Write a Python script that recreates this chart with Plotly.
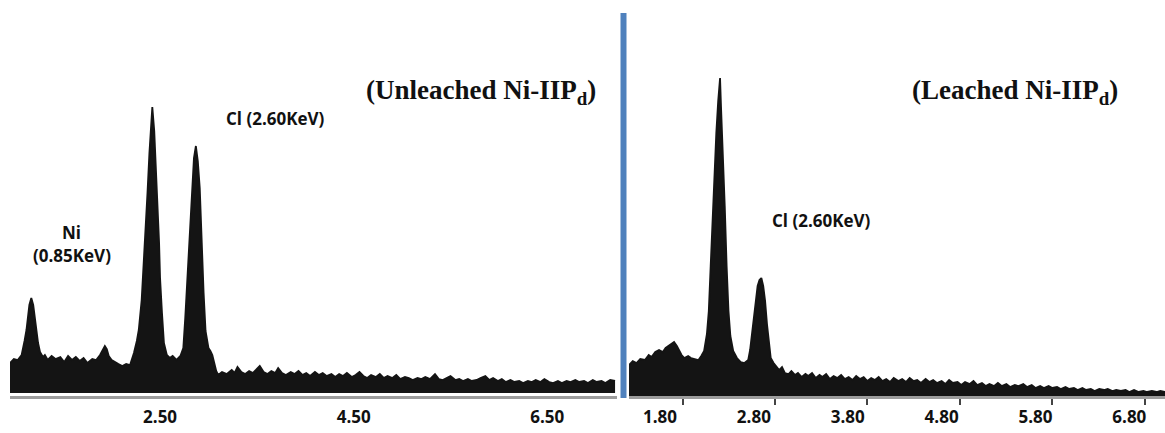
import plotly.graph_objects as go

# EDX spectrum, unleached Ni-IIPd (energy in keV, intensity in arbitrary counts)
unleached_kev = [0.95, 0.99, 1.03, 1.07, 1.10, 1.12, 1.15, 1.17, 1.19, 1.22, 1.24, 1.26, 1.29, 1.31,
                 1.34, 1.38, 1.42, 1.47, 1.51, 1.55, 1.59, 1.63, 1.67, 1.71, 1.75, 1.80, 1.84, 1.88,
                 1.91, 1.93, 1.95, 1.97, 2.00, 2.03, 2.07, 2.11, 2.15, 2.19, 2.23,
                 2.26, 2.28, 2.31, 2.33, 2.35, 2.37, 2.39, 2.40, 2.42, 2.44, 2.45, 2.47, 2.49, 2.50,
                 2.52, 2.54, 2.57, 2.60, 2.63, 2.67, 2.71, 2.74, 2.76, 2.78, 2.79, 2.81, 2.83, 2.85,
                 2.87, 2.89, 2.91, 2.93, 2.95, 2.97, 3.00, 3.02, 3.04, 3.06, 3.08, 3.10,
                 3.14, 3.19, 3.24, 3.27, 3.30, 3.34, 3.38, 3.42, 3.46, 3.50, 3.53, 3.57, 3.61, 3.65,
                 3.69, 3.72, 3.76, 3.80, 3.85, 3.89, 3.93, 3.97, 4.01, 4.05, 4.10, 4.14, 4.18, 4.22,
                 4.27, 4.31, 4.35, 4.39, 4.43, 4.48, 4.52, 4.56, 4.60, 4.64, 4.68, 4.73, 4.77, 4.81,
                 4.85, 4.90, 4.94, 4.98, 5.03, 5.07, 5.11, 5.16, 5.20, 5.24, 5.29, 5.34, 5.38, 5.42,
                 5.46, 5.50, 5.55, 5.59, 5.63, 5.68, 5.72, 5.77, 5.81, 5.86, 5.90, 5.94, 5.99, 6.03,
                 6.07, 6.12, 6.16, 6.21, 6.25, 6.30, 6.34, 6.38, 6.43, 6.47, 6.52, 6.56, 6.61, 6.65,
                 6.70, 6.74, 6.79, 6.83, 6.88, 6.92, 6.97, 7.01, 7.06, 7.10, 7.15, 7.20]
unleached_counts = [30, 34, 33, 38, 52, 63, 88, 95, 88, 63, 50, 41, 36, 38,
                    33, 37, 34, 36, 31, 37, 33, 36, 32, 35, 30, 34, 33, 38,
                    44, 47, 44, 37, 33, 31, 29, 27, 29, 28, 40,
                    52, 63, 93, 125, 165, 200, 240, 260, 286, 262, 235, 195, 150, 115,
                    80, 50, 38, 35, 37, 33, 37, 45, 75, 110, 130, 175, 210, 235,
                    247, 232, 205, 150, 100, 62, 45, 42, 38, 30, 22, 18,
                    21, 19, 23, 20, 26, 21, 19, 22, 20, 24, 27, 21, 19, 22,
                    20, 25, 20, 18, 21, 19, 22, 18, 20, 17, 21, 18, 20, 17,
                    19, 16, 19, 17, 20, 16, 18, 21, 17, 15, 18, 16, 19, 15,
                    17, 15, 18, 14, 16, 15, 13, 15, 14, 16, 14, 19, 14, 13,
                    15, 17, 13, 14, 12, 14, 12, 13, 15, 17, 13, 15, 12, 14,
                    11, 13, 11, 12, 10, 12, 11, 13, 11, 14, 11, 10, 12, 10,
                    12, 11, 13, 11, 12, 10, 13, 11, 12, 10, 13, 12]

# EDX spectrum, leached Ni-IIPd
leached_kev = [1.47, 1.51, 1.55, 1.59, 1.64, 1.68, 1.71, 1.75, 1.79, 1.83, 1.86, 1.90, 1.95, 1.98,
               2.00, 2.03, 2.06, 2.10, 2.13, 2.17, 2.21, 2.24, 2.27, 2.30, 2.32, 2.34, 2.36, 2.38,
               2.40, 2.42, 2.44, 2.45, 2.47, 2.49, 2.51, 2.53, 2.55, 2.58, 2.62, 2.66, 2.70, 2.74,
               2.76, 2.78, 2.80, 2.82, 2.84, 2.86, 2.88, 2.90, 2.92, 2.94, 2.96, 2.98, 3.01, 3.04,
               3.07, 3.10, 3.13, 3.17, 3.20, 3.24, 3.27, 3.31, 3.35, 3.38, 3.42, 3.46, 3.50, 3.53,
               3.57, 3.61, 3.65, 3.69, 3.73, 3.77, 3.81, 3.85, 3.89, 3.93, 3.97, 4.01, 4.05, 4.09,
               4.13, 4.17, 4.21, 4.25, 4.29, 4.34, 4.38, 4.42, 4.46, 4.50, 4.54, 4.58, 4.63, 4.67,
               4.71, 4.75, 4.80, 4.84, 4.88, 4.92, 4.97, 5.01, 5.05, 5.10, 5.14, 5.18, 5.23, 5.27,
               5.31, 5.36, 5.40, 5.44, 5.49, 5.53, 5.58, 5.62, 5.67, 5.71, 5.76, 5.80, 5.85, 5.89,
               5.94, 5.98, 6.03, 6.07, 6.12, 6.16, 6.21, 6.25, 6.30, 6.34, 6.39, 6.43, 6.48, 6.53,
               6.57, 6.62, 6.66, 6.71, 6.76, 6.80, 6.85, 6.90, 6.95, 6.99, 7.04, 7.09, 7.13, 7.18]
leached_counts = [31, 35, 33, 37, 36, 41, 39, 44, 46, 44, 48, 51, 54, 50,
                  46, 41, 38, 40, 38, 37, 36, 40, 45, 62, 85, 130, 180, 225,
                  263, 295, 318, 290, 245, 190, 130, 85, 60, 45, 38, 34, 33, 36,
                  46, 62, 80, 97, 110, 116, 118, 110, 95, 72, 52, 38, 33, 30,
                  26, 29, 23, 22, 25, 21, 23, 19, 22, 20, 23, 18, 21, 19,
                  22, 17, 20, 18, 21, 17, 19, 16, 20, 17, 19, 15, 18, 16,
                  19, 15, 17, 14, 18, 15, 17, 14, 18, 15, 16, 13, 17, 14,
                  16, 13, 15, 12, 16, 13, 14, 11, 14, 12, 15, 11, 13, 10,
                  12, 10, 13, 10, 12, 9, 11, 10, 12, 9, 11, 8, 10, 8,
                  10, 8, 9, 7, 9, 7, 8, 6, 8, 6, 7, 5, 7, 6,
                  7, 5, 6, 5, 6, 4, 6, 4, 5, 4, 5, 4, 5, 4]

unleached_ticks = [2.50, 4.50, 6.50]
leached_ticks = [1.80, 2.80, 3.80, 4.80, 5.80, 6.80]
leached_scale_marks = [2.05, 3.03, 4.01, 5.00, 5.98, 6.97]

INK = "#141414"
LABEL_FONT = dict(family="Open Sans, Lato, sans-serif", size=17, color="#111111")
TITLE_FONT = dict(family="Liberation Serif, Times New Roman, serif", size=27, color="#111111")

fig = go.Figure()

fig.add_trace(go.Scatter(
    x=unleached_kev, y=unleached_counts, mode="lines",
    line=dict(color=INK, width=1.8, shape="linear"),
    fill="tozeroy", fillcolor=INK, xaxis="x", yaxis="y",
    hoverinfo="x+y", showlegend=False,
))
fig.add_trace(go.Scatter(
    x=leached_kev, y=leached_counts, mode="lines",
    line=dict(color=INK, width=1.8, shape="linear"),
    fill="tozeroy", fillcolor=INK, xaxis="x2", yaxis="y2",
    hoverinfo="x+y", showlegend=False,
))

axis_common = dict(
    showgrid=False, zeroline=False, showline=True,
    linecolor="#9c9c9c", linewidth=3, ticks="",
    tickfont=dict(family=LABEL_FONT["family"], size=17, color="#111111"),
    ticklabelstandoff=4, fixedrange=True,
)

fig.update_layout(
    width=1165, height=433,
    margin=dict(l=0, r=0, t=0, b=37),
    paper_bgcolor="white", plot_bgcolor="white",
    xaxis=dict(domain=[10 / 1165, 617 / 1165], range=[0.95, 7.22],
               tickmode="array", tickvals=unleached_ticks,
               ticktext=[f"<b>{v:.2f}</b>" for v in unleached_ticks], **axis_common),
    yaxis=dict(domain=[0, 1], range=[-3, 393], visible=False, fixedrange=True),
    xaxis2=dict(domain=[629 / 1165, 1.0], range=[1.47, 7.18], anchor="y2",
                tickmode="array", tickvals=leached_ticks,
                ticktext=[f"<b>{v:.2f}</b>" for v in leached_ticks],
                minor=dict(tickmode="array", tickvals=leached_scale_marks,
                           ticks="outside", ticklen=6, tickwidth=2, tickcolor="#444444"),
                **axis_common),
    yaxis2=dict(domain=[0, 1], range=[0, 396], anchor="x2", visible=False, fixedrange=True),
)

annotations = [
    dict(x=3.69, y=275, xref="x", yref="y", text="<b>Cl (2.60KeV)</b>", font=LABEL_FONT),
    dict(x=1.59, y=161, xref="x", yref="y", text="<b>Ni</b>", font=LABEL_FONT),
    dict(x=1.59, y=138, xref="x", yref="y", text="<b>(0.85KeV)</b>", font=LABEL_FONT),
    dict(x=5.82, y=301, xref="x", yref="y", text="<b>(Unleached Ni-IIP<sub>d</sub>)</b>", font=TITLE_FONT),
    dict(x=3.52, y=176, xref="x2", yref="y2", text="<b>Cl (2.60KeV)</b>", font=LABEL_FONT),
    dict(x=5.58, y=304, xref="x2", yref="y2", text="<b>(Leached Ni-IIP<sub>d</sub>)</b>", font=TITLE_FONT),
]
for a in annotations:
    fig.add_annotation(showarrow=False, xanchor="center", yanchor="middle", **a)

# Blue divider between the two spectra
fig.add_shape(type="line", xref="paper", yref="paper",
              x0=623.5 / 1165, x1=623.5 / 1165, y0=-0.005, y1=0.967,
              line=dict(color="#4F81BD", width=6))

fig.write_html("out.html")
